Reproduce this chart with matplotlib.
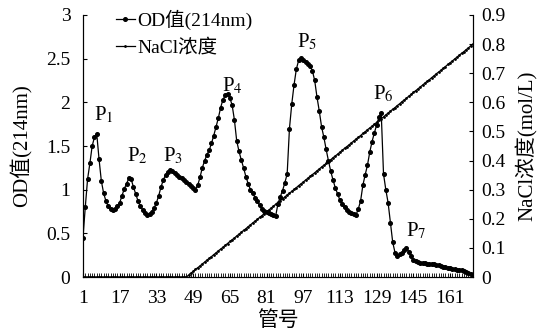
import matplotlib
matplotlib.use("Agg")
import matplotlib.pyplot as plt

plt.rcParams['font.family'] = ['Liberation Serif', 'Noto Sans CJK SC']
plt.rcParams['mathtext.fontset'] = 'stix'

# 管号 1..171
tubes = list(range(1, 172))

# OD值(214nm)，逐管读取
od = [
    0.45, 0.80, 1.12, 1.30, 1.50, 1.60, 1.64, 1.35, 1.10, 0.96,
    0.87, 0.81, 0.78, 0.77, 0.78, 0.81, 0.85, 0.93, 1.01, 1.07,
    1.13, 1.12, 1.03, 0.95, 0.87, 0.81, 0.77, 0.73, 0.71, 0.72,
    0.75, 0.79, 0.85, 0.93, 1.03, 1.11, 1.17, 1.20, 1.22, 1.21,
    1.19, 1.17, 1.15, 1.13, 1.11, 1.09, 1.06, 1.04, 1.02, 1.00,
    1.05, 1.14, 1.25, 1.33, 1.40, 1.45, 1.53, 1.62, 1.72, 1.82,
    1.94, 2.03, 2.08, 2.10, 2.05, 1.97, 1.80, 1.56, 1.44, 1.34,
    1.25, 1.15, 1.07, 1.00, 0.96, 0.91, 0.87, 0.82, 0.78, 0.76,
    0.74, 0.73, 0.72, 0.71, 0.70, 0.84, 0.92, 0.99, 1.08, 1.18,
    1.70, 1.98, 2.20, 2.38, 2.48, 2.51, 2.49, 2.46, 2.44, 2.42,
    2.36, 2.25, 2.06, 1.90, 1.72, 1.60, 1.46, 1.33, 1.21, 1.11,
    1.02, 0.95, 0.88, 0.84, 0.80, 0.77, 0.75, 0.73, 0.72, 0.71,
    0.78, 0.87, 1.05, 1.17, 1.28, 1.43, 1.55, 1.65, 1.74, 1.83,
    1.88, 1.18, 1.00, 0.85, 0.62, 0.40, 0.28, 0.24, 0.26, 0.28,
    0.31, 0.33, 0.29, 0.24, 0.20, 0.18, 0.17, 0.165, 0.16, 0.155,
    0.15, 0.15, 0.15, 0.148, 0.14, 0.135, 0.13, 0.12, 0.11, 0.105,
    0.10, 0.095, 0.09, 0.085, 0.08, 0.075, 0.07, 0.06, 0.045, 0.035,
    0.02,
]

# NaCl浓度(mol/L)
nacl = [0.0] * 46 + [
    0.006, 0.013, 0.019, 0.026, 0.032, 0.038, 0.045, 0.051, 0.058, 0.064,
    0.070, 0.077, 0.083, 0.090, 0.096, 0.102, 0.109, 0.115, 0.122, 0.128,
    0.134, 0.141, 0.147, 0.154, 0.160, 0.166, 0.173, 0.179, 0.186, 0.192,
    0.198, 0.205, 0.211, 0.218, 0.224, 0.230, 0.237, 0.243, 0.250, 0.256,
    0.262, 0.269, 0.275, 0.282, 0.288, 0.294, 0.301, 0.307, 0.314, 0.320,
    0.326, 0.333, 0.339, 0.346, 0.352, 0.358, 0.365, 0.371, 0.378, 0.384,
    0.390, 0.397, 0.403, 0.410, 0.416, 0.422, 0.429, 0.435, 0.442, 0.448,
    0.454, 0.461, 0.467, 0.474, 0.480, 0.486, 0.493, 0.499, 0.506, 0.512,
    0.518, 0.525, 0.531, 0.538, 0.544, 0.550, 0.557, 0.563, 0.570, 0.576,
    0.582, 0.589, 0.595, 0.602, 0.608, 0.614, 0.621, 0.627, 0.634, 0.640,
    0.646, 0.653, 0.659, 0.666, 0.672, 0.678, 0.685, 0.691, 0.698, 0.704,
    0.710, 0.717, 0.723, 0.730, 0.736, 0.742, 0.749, 0.755, 0.762, 0.768,
    0.774, 0.781, 0.787, 0.794, 0.800,
]

xtick_labels = [1, 17, 33, 49, 65, 81, 97, 113, 129, 145, 161]

# 峰标记: (下标, 管号, OD)
peaks = [
    ('1', 6.0, 1.80), ('2', 20.4, 1.32), ('3', 35.7, 1.32),
    ('4', 61.4, 2.13), ('5', 94.5, 2.63), ('6', 127.2, 2.03),
    ('7', 141.9, 0.47),
]

fig = plt.figure(figsize=(5.47, 3.31), dpi=100)
ax = fig.add_axes([0.1517, 0.1631, 0.7130, 0.7916])
ax2 = ax.twinx()

l1, = ax.plot(tubes, od, '-o', color='black', lw=0.9, ms=2.6)
l2, = ax2.plot(tubes, nacl, '-o', color='black', lw=0.9, ms=1.0)

ax.set_xlim(1, 171)
ax.set_ylim(0, 3)
ax2.set_ylim(0, 0.9)

ax.set_xticks(xtick_labels)
ax.set_xticklabels([str(t) for t in xtick_labels])
ax.set_xticks(tubes, minor=True)
ax.set_yticks([0, 0.5, 1, 1.5, 2, 2.5, 3])
ax.set_yticklabels(['0', '0.5', '1', '1.5', '2', '2.5', '3'])
ax2.set_yticks([i / 10 for i in range(10)])
ax2.set_yticklabels(['0'] + ['0.%d' % i for i in range(1, 10)])

for a in (ax, ax2):
    a.spines['top'].set_visible(False)
    a.tick_params(which='both', direction='in', labelsize=14, width=0.8)
ax.tick_params(axis='x', which='major', length=3, pad=9)
ax.tick_params(axis='x', which='minor', length=3, width=0.6)
ax.tick_params(axis='y', length=3, pad=9)
ax2.tick_params(axis='y', length=3, pad=6)

ax.set_ylabel('OD值(214nm)', fontsize=15, labelpad=10)
ax2.set_ylabel('NaCl浓度(mol/L)', fontsize=15, labelpad=7)
ax.set_xlabel('管号', fontsize=15, labelpad=3)

for sub, t, v in peaks:
    ax.text(t, v, 'P$_{%s}$' % sub, fontsize=15, ha='left', va='baseline')

ax2.legend([l1, l2], ['OD值(214nm)', 'NaCl浓度'], loc='upper left',
           bbox_to_anchor=(0.085, 1.02), frameon=False, fontsize=14,
           handlelength=0.95, handletextpad=0.15, borderpad=0,
           borderaxespad=0, labelspacing=0.45)

plt.savefig('out.png', dpi=100)
